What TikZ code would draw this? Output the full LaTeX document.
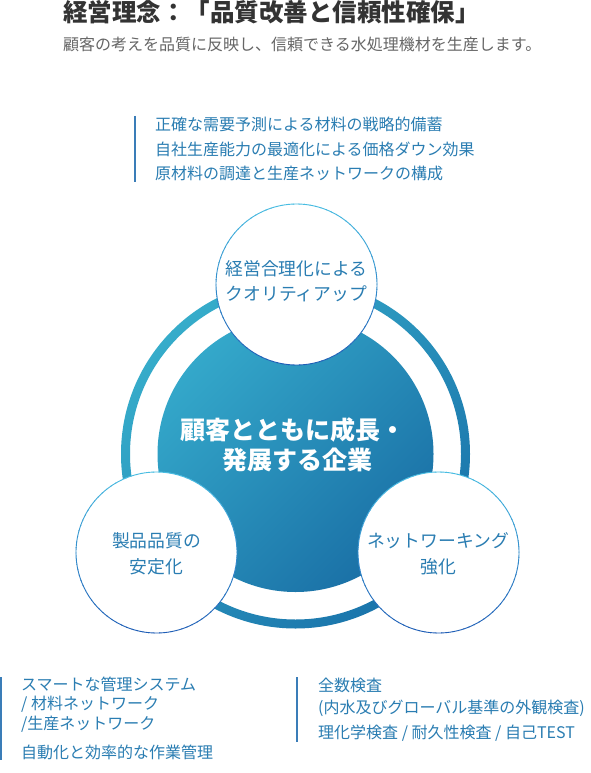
\documentclass[tikz,border=0pt]{standalone}
\usepackage{fontspec}
\setmainfont{Noto Sans CJK JP}
\definecolor{titlegray}{HTML}{333333}
\definecolor{subgray}{HTML}{666666}
\definecolor{txtblue}{HTML}{2A7DB2}
\definecolor{barblue}{HTML}{3A7DB8}
\definecolor{ringL}{HTML}{36ACCA}
\definecolor{ringD}{HTML}{1A74AB}
\definecolor{diskL}{HTML}{34A8CA}
\definecolor{diskD}{HTML}{1A70A6}
\definecolor{rimL}{HTML}{48BDE2}
\definecolor{rimD}{HTML}{1E5DB6}
\begin{document}
\begin{tikzpicture}[x=1pt,y=-1pt,
  blocktxt/.style={inner sep=0pt, anchor=base west, text=txtblue, font=\fontsize{16}{19}\selectfont},
  lbl/.style={inner sep=0pt, anchor=base, text=txtblue, font=\fontsize{17.8}{21}\selectfont},
  centertxt/.style={inner sep=0pt, anchor=base, text=white, font=\fontsize{25}{30}\selectfont\bfseries},
  bar/.style={draw=barblue, line width=1.1pt},
  smallcircle/.style={circle, fill=white, minimum size=161pt, inner sep=0pt}
]
\useasboundingbox (0,0) rectangle (591,773);
\fill[white] (0,0) rectangle (591,773);

% title
\node[inner sep=0pt, anchor=base west, text=titlegray, font=\fontsize{24.5}{29}\selectfont\bfseries] (title) at (63,21.3) {経営理念：「品質改善と信頼性確保」};
\node[inner sep=0pt, anchor=base west, text=subgray, font=\fontsize{16}{19}\selectfont] (subtitle) at (63,51) {顧客の考えを品質に反映し、信頼できる水処理機材を生産します。};

% top block
\coordinate (tb1) at (135,116);
\coordinate (tb2) at (135,182);
\draw[bar] (tb1) -- (tb2);
\node[blocktxt] (t1) at (155,131) {正確な需要予測による材料の戦略的備蓄};
\node[blocktxt] (t2) at (155,155) {自社生産能力の最適化による価格ダウン効果};
\node[blocktxt] (t3) at (155,179) {原材料の調達と生産ネットワークの構成};

% ring and disk
\coordinate (c) at (295.5,454);
\shade[even odd rule, top color=ringL, bottom color=ringD, shading angle=45]
  (c) circle (174.5pt) (c) circle (165.5pt);
\shade[top color=diskL, bottom color=diskD, shading angle=45] (c) circle (138pt);

\node[centertxt] (ct1) at (293,439) {顧客とともに成長・};
\node[centertxt] (ct2) at (297,469.5) {発展する企業};

% small circles
\foreach \nm/\cx/\cy in {topc/296.5/284.5, leftc/156.5/552.5, rightc/438.5/552.5}{
  \node[smallcircle] (\nm) at (\cx,\cy) {};
  \foreach \a in {0,4,...,356}{
    \pgfmathsetmacro\pc{50+50*sin(\a+2)}
    \draw[color=rimL!\pc!rimD, line width=0.9pt] (\nm.center) ++(\a:80.5pt) arc[start angle=\a, end angle=\a+4.6, radius=80.5pt];
  }
}

\node[lbl] (l1) at (296.5,275) {経営合理化による};
\node[lbl] (l2) at (296.5,300) {クオリティアップ};
\node[lbl] (l3) at (156.5,547) {製品品質の};
\node[lbl] (l4) at (156.5,573) {安定化};
\node[lbl] (l5) at (438,547) {ネットワーキング};
\node[lbl] (l6) at (438,573) {強化};

% bottom left block
\coordinate (bl1) at (1,677);
\coordinate (bl2) at (1,760);
\draw[bar] (bl1) -- (bl2);
\node[blocktxt] (b1) at (21,690) {スマートな管理システム};
\node[blocktxt] (b2) at (21,709) {/ 材料ネットワーク};
\node[blocktxt] (b3) at (21,729) {/生産ネットワーク};
\node[blocktxt] (b4) at (21,758) {自動化と効率的な作業管理};

% bottom right block
\coordinate (br1) at (297,677);
\coordinate (br2) at (297,742);
\draw[bar] (br1) -- (br2);
\node[blocktxt] (r1) at (318,691) {全数検査};
\node[blocktxt] (r2) at (318,713) {(内水及びグローバル基準の外観検査)};
\node[blocktxt] (r3) at (318,738) {理化学検査 / 耐久性検査 / 自己TEST};
\end{tikzpicture}
\end{document}
